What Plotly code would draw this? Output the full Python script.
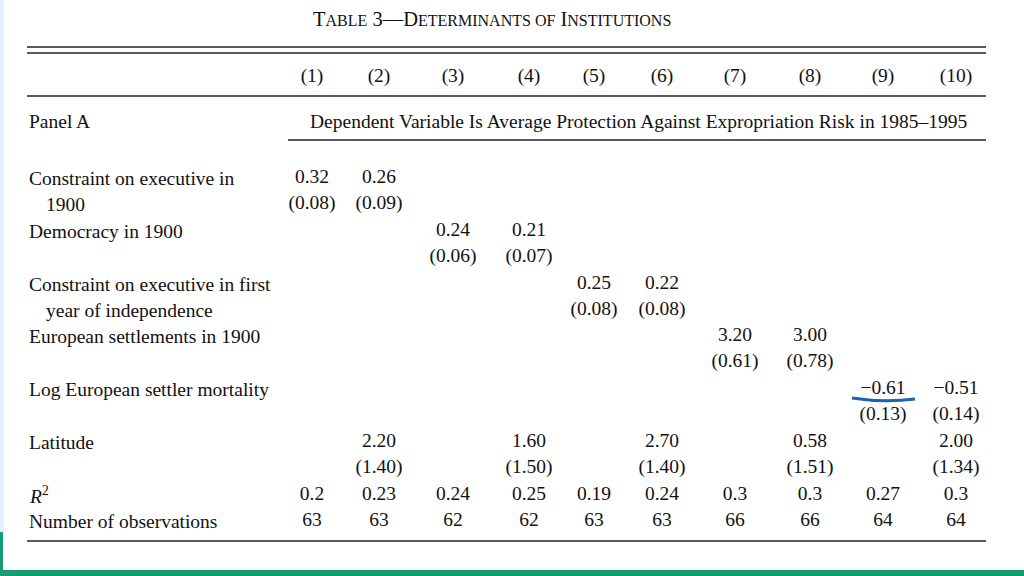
import plotly.graph_objects as go

# ---------------- data ----------------
column_labels = ["(1)", "(2)", "(3)", "(4)", "(5)", "(6)", "(7)", "(8)", "(9)", "(10)"]

constraint_1900 = [0.32, 0.26, None, None, None, None, None, None, None, None]
constraint_1900_se = [0.08, 0.09, None, None, None, None, None, None, None, None]
democracy_1900 = [None, None, 0.24, 0.21, None, None, None, None, None, None]
democracy_1900_se = [None, None, 0.06, 0.07, None, None, None, None, None, None]
constraint_indep = [None, None, None, None, 0.25, 0.22, None, None, None, None]
constraint_indep_se = [None, None, None, None, 0.08, 0.08, None, None, None, None]
euro_settlements = [None, None, None, None, None, None, 3.20, 3.00, None, None]
euro_settlements_se = [None, None, None, None, None, None, 0.61, 0.78, None, None]
log_mortality = [None, None, None, None, None, None, None, None, -0.61, -0.51]
log_mortality_se = [None, None, None, None, None, None, None, None, 0.13, 0.14]
latitude = [None, 2.20, None, 1.60, None, 2.70, None, 0.58, None, 2.00]
latitude_se = [None, 1.40, None, 1.50, None, 1.40, None, 1.51, None, 1.34]
r_squared = [0.2, 0.23, 0.24, 0.25, 0.19, 0.24, 0.3, 0.3, 0.27, 0.3]
n_obs = [63, 63, 62, 62, 63, 63, 66, 66, 64, 64]

row_labels = [
    ["Constraint on executive in", "1900"],
    ["Democracy in 1900"],
    ["Constraint on executive in first", "year of independence"],
    ["European settlements in 1900"],
    ["Log European settler mortality"],
    ["Latitude"],
    ["<i>R</i><sup>2</sup>"],
    ["Number of observations"],
]

# ---------------- layout constants ----------------
FONT = "Liberation Serif, Times New Roman, serif"
INK = "#111111"
FS = 19.5
col_x = [312, 379, 453, 529, 594, 662, 735, 810, 883, 956]
row_y = [178, 231, 284, 336, 389, 442, 495, 521]
se_dy = 26
label_x = 27

fig = go.Figure()


def fmt(v):
    s = f"{v:.2f}"
    return s.replace("-", "\u2212")


def add_row(vals, y, fmtfn):
    xs, ys, ts = [], [], []
    for x, v in zip(col_x, vals):
        if v is None:
            continue
        xs.append(x)
        ys.append(y)
        ts.append(fmtfn(v))
    fig.add_trace(go.Scatter(
        x=xs, y=ys, text=ts, mode="text", textposition="middle center",
        textfont=dict(family=FONT, size=FS, color=INK),
        hoverinfo="skip", showlegend=False))


coef_rows = [
    (constraint_1900, constraint_1900_se),
    (democracy_1900, democracy_1900_se),
    (constraint_indep, constraint_indep_se),
    (euro_settlements, euro_settlements_se),
    (log_mortality, log_mortality_se),
    (latitude, latitude_se),
]
for i, (c, se) in enumerate(coef_rows):
    add_row(c, row_y[i], fmt)
    add_row(se, row_y[i] + se_dy, lambda v: "(" + fmt(v) + ")")

add_row(r_squared, row_y[6], lambda v: f"{v:g}")
add_row(n_obs, row_y[7], lambda v: str(v))

# column headers
fig.add_trace(go.Scatter(
    x=col_x, y=[77] * len(col_x), text=column_labels, mode="text",
    textposition="middle center",
    textfont=dict(family=FONT, size=FS, color=INK),
    hoverinfo="skip", showlegend=False))

annotations = []
# row labels
for i, lab in enumerate(row_labels):
    for j, line in enumerate(lab):
        annotations.append(dict(
            x=label_x + (17 if j > 0 else 0), y=row_y[i] + j * se_dy,
            text=line, showarrow=False, xanchor="left", yanchor="middle",
            font=dict(family=FONT, size=FS, color=INK)))

annotations.append(dict(x=label_x, y=121, text="Panel A", showarrow=False,
                        xanchor="left", yanchor="middle",
                        font=dict(family=FONT, size=FS, color=INK)))
annotations.append(dict(x=638, y=121,
                        text="Dependent Variable Is Average Protection Against Expropriation Risk in 1985\u20131995",
                        showarrow=False, xanchor="center", yanchor="middle",
                        font=dict(family=FONT, size=FS, color=INK)))

sc = '<span style="font-size:16px">'
title = ("T" + sc + "ABLE</span> 3\u2014D" + sc + "ETERMINANTS OF</span> I" + sc + "NSTITUTIONS</span>")
annotations.append(dict(x=492, y=19, text=title, showarrow=False,
                        xanchor="center", yanchor="middle",
                        font=dict(family=FONT, size=20.5, color=INK)))

shapes = []
line_style = dict(color="#222222", width=1.6)
for y, x0 in [(47, 27), (53, 27), (96, 27), (140, 288), (541, 27)]:
    shapes.append(dict(type="line", x0=x0, x1=986, y0=y, y1=y, xref="x", yref="y",
                       line=line_style))

# decorative frame strips
shapes.append(dict(type="rect", x0=0, x1=4, y0=0, y1=532, xref="x", yref="y",
                   fillcolor="#e4eefa", line=dict(width=0), layer="below"))
shapes.append(dict(type="rect", x0=0, x1=3, y0=532, y1=576, xref="x", yref="y",
                   fillcolor="#169b72", line=dict(width=0)))
shapes.append(dict(type="rect", x0=0, x1=1024, y0=570, y1=576, xref="x", yref="y",
                   fillcolor="#169b72", line=dict(width=0)))

# hand-drawn underline below -0.61
shapes.append(dict(type="path", path="M 852 398 Q 884 403 915 399",
                   xref="x", yref="y", line=dict(color="#1f62b0", width=3)))

fig.update_layout(
    width=1024, height=576,
    margin=dict(l=0, r=0, t=0, b=0),
    paper_bgcolor="white", plot_bgcolor="white",
    xaxis=dict(range=[0, 1024], visible=False, fixedrange=True),
    yaxis=dict(range=[576, 0], visible=False, fixedrange=True),
    annotations=annotations, shapes=shapes,
)

fig.write_html("out.html", config={"displayModeBar": False},
               post_script="document.body.style.margin='0';document.body.style.overflow='hidden';")
